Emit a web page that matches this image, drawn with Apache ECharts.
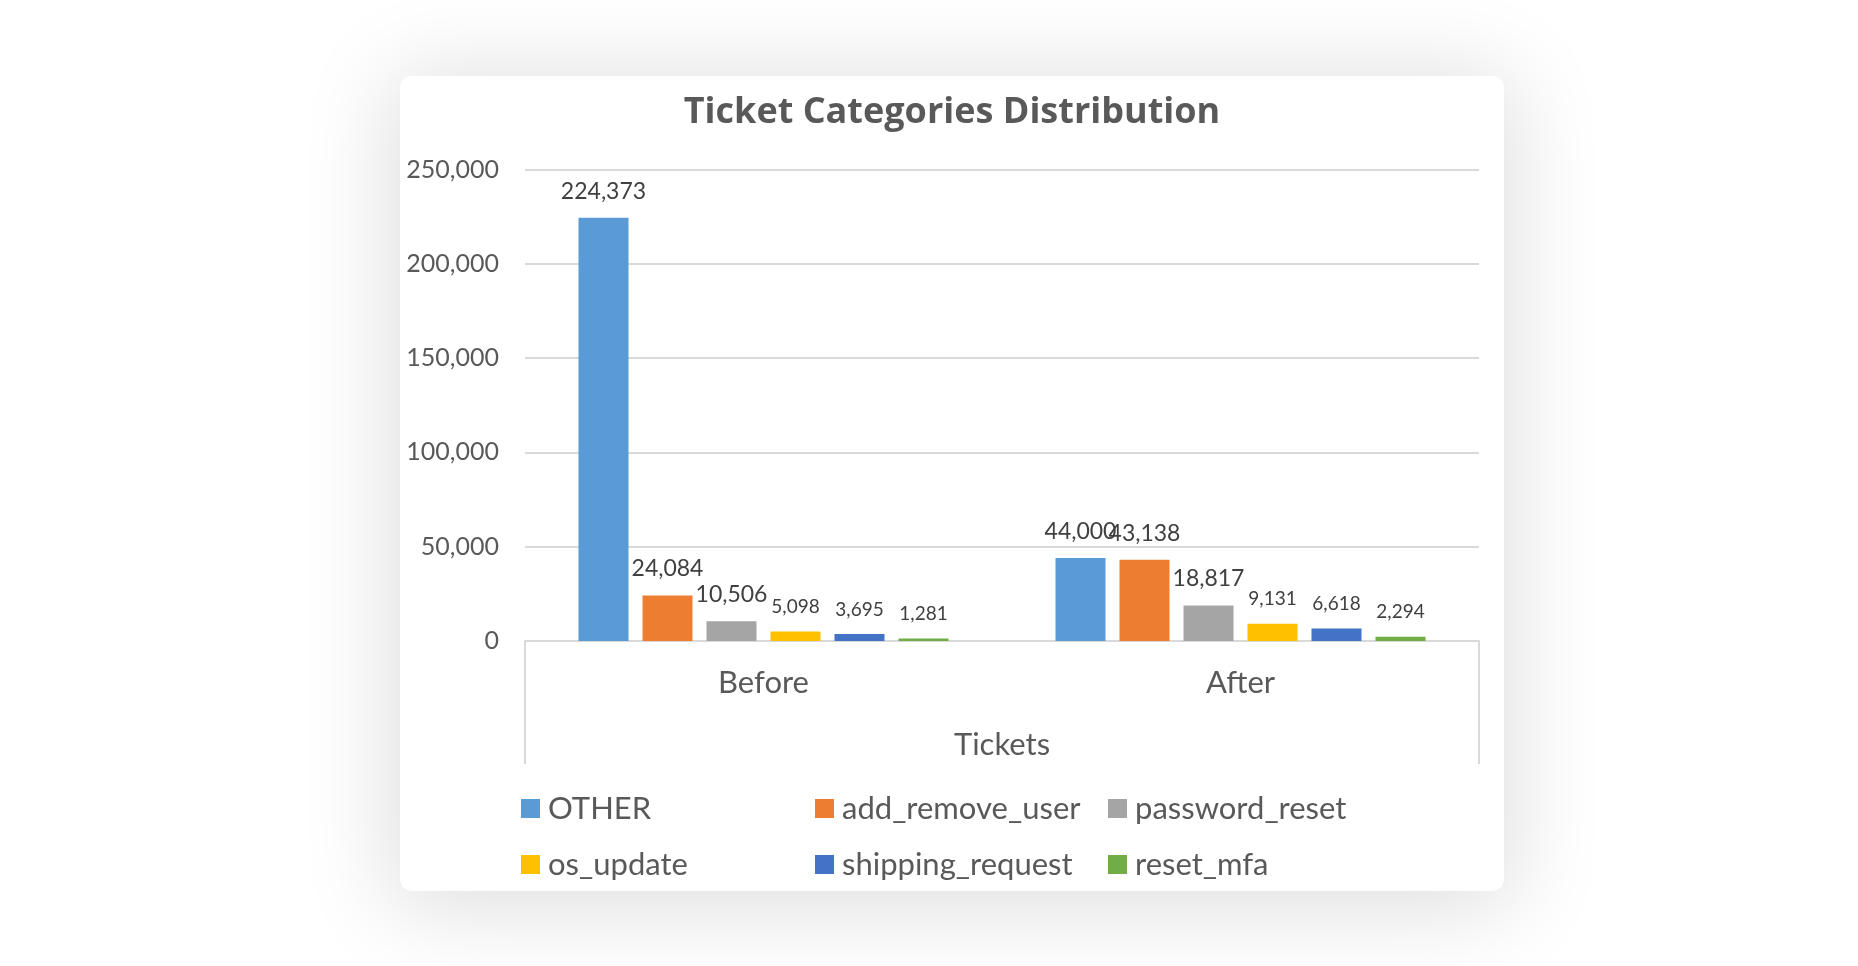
<!DOCTYPE html>
<html>
<head>
<meta charset="utf-8">
<script src="https://cdn.jsdelivr.net/npm/echarts@6/dist/echarts.min.js"></script>
<style>
  html, body { margin: 0; padding: 0; background: #ffffff; width: 1858px; height: 966px; overflow: hidden; }
  .card {
    position: absolute; left: 400px; top: 76px; width: 1104px; height: 815px;
    background: #ffffff; border-radius: 12px;
    box-shadow: 0 8px 90px 10px rgba(0, 0, 0, 0.13);
  }
  #chart { width: 1104px; height: 815px; }
</style>
</head>
<body>
<div class="card"><div id="chart"></div></div>
<script>
const categories = ['Before', 'After'];
const seriesNames = ['OTHER', 'add_remove_user', 'password_reset', 'os_update', 'shipping_request', 'reset_mfa'];
const OTHER = [224373, 44000];
const add_remove_user = [24084, 43138];
const password_reset = [10506, 18817];
const os_update = [5098, 9131];
const shipping_request = [3695, 6618];
const reset_mfa = [1281, 2294];
const yTicks = [0, 50000, 100000, 150000, 200000, 250000];

const values = [OTHER, add_remove_user, password_reset, os_update, shipping_request, reset_mfa];
const colors = ['#5b9bd5', '#ed7d31', '#a5a5a5', '#ffc000', '#4472c4', '#70ad47'];
const labelSizes = [23, 23, 23, 19, 19, 19];
const font = 'Lato';
const fmt = v => v.toLocaleString('en-US');

const chart = echarts.init(document.getElementById('chart'));

const series = seriesNames.map((name, i) => ({
  name: name,
  type: 'bar',
  data: values[i],
  barWidth: 50,
  barGap: '28%',
  itemStyle: { color: colors[i] },
  label: {
    show: true,
    position: 'top',
    distance: 15,
    color: '#404040',
    fontFamily: font,
    fontSize: labelSizes[i],
    formatter: p => fmt(p.value)
  }
}));

const legendCol = (names, left) => ({
  data: names,
  left: left,
  top: 712,
  orient: 'vertical',
  itemGap: 25,
  itemWidth: 19,
  itemHeight: 19,
  icon: 'rect',
  textStyle: { fontFamily: font, fontSize: 31, color: '#595959', padding: [0, 0, 0, 3] }
});

chart.setOption({
  animation: false,
  title: {
    text: 'Ticket Categories Distribution',
    left: 'center',
    top: 14,
    textStyle: { fontFamily: 'Open Sans', fontWeight: 'bold', fontSize: 36, color: '#595959' }
  },
  legend: [
    legendCol([seriesNames[0], seriesNames[3]], 116),
    legendCol([seriesNames[1], seriesNames[4]], 410),
    legendCol([seriesNames[2], seriesNames[5]], 703)
  ],
  grid: { left: 125, right: 25, top: 93.5, bottom: 250 },
  xAxis: [
    {
      type: 'category',
      data: categories,
      axisLine: { lineStyle: { color: '#d9d9d9', width: 2 } },
      axisTick: { show: false },
      axisLabel: { margin: 26, fontFamily: font, fontSize: 31, color: '#595959' },
      name: 'Tickets',
      nameLocation: 'middle',
      nameGap: 88,
      nameTextStyle: { fontFamily: font, fontSize: 31, color: '#595959' }
    },
    {
      type: 'value',
      position: 'bottom',
      min: 0,
      max: 1,
      interval: 1,
      axisLine: { show: false },
      axisTick: { show: true, length: 123, lineStyle: { color: '#d9d9d9', width: 2 } },
      axisLabel: { show: false },
      splitLine: { show: false }
    }
  ],
  yAxis: {
    type: 'value',
    min: yTicks[0],
    max: yTicks[yTicks.length - 1],
    interval: yTicks[1] - yTicks[0],
    axisLine: { show: false },
    axisTick: { show: false },
    axisLabel: { margin: 26, fontFamily: font, fontSize: 25, color: '#595959', formatter: v => fmt(v) },
    splitLine: { lineStyle: { color: '#d9d9d9', width: 2 } }
  },
  series: series
});
</script>
</body>
</html>
